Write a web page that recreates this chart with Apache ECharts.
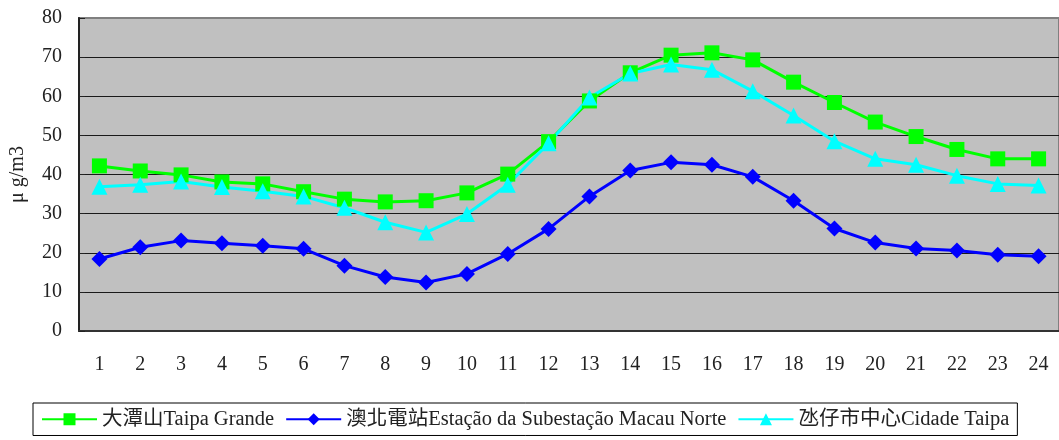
<!DOCTYPE html>
<html>
<head>
<meta charset="utf-8">
<script src="https://cdn.jsdelivr.net/npm/echarts@6/dist/echarts.min.js"></script>
<style>
  html, body { margin: 0; padding: 0; background: #fff; }
  #chart { width: 1059px; height: 440px; }
</style>
</head>
<body>
<div id="chart"></div>
<script>
// 小時 1-24
const hours = ["1","2","3","4","5","6","7","8","9","10","11","12","13","14","15","16","17","18","19","20","21","22","23","24"];

// 大潭山
const taipaGrande = [42.2, 40.9, 39.9, 38.1, 37.6, 35.6, 33.7, 33.0, 33.3, 35.3, 40.1, 48.4,
  58.8, 66.0, 70.5, 71.1, 69.3, 63.6, 58.4, 53.4, 49.7, 46.4, 44.0, 44.0];
// 澳北電站
const macauNorte = [18.4, 21.4, 23.1, 22.4, 21.8, 21.0, 16.7, 13.8, 12.4, 14.6, 19.7, 26.1,
  34.4, 41.0, 43.1, 42.5, 39.4, 33.3, 26.2, 22.6, 21.1, 20.6, 19.5, 19.1];
// 氹仔市中心
const cidadeTaipa = [36.9, 37.4, 38.2, 36.8, 35.7, 34.4, 31.5, 27.8, 25.2, 29.9, 37.4, 48.0,
  59.7, 65.8, 68.1, 66.8, 61.3, 55.1, 48.5, 44.0, 42.5, 39.7, 37.6, 37.2];

const names = ["大潭山Taipa Grande", "澳北電站Estação da Subestação Macau Norte", "氹仔市中心Cidade Taipa"];

const font = '"Liberation Serif", "Noto Sans CJK TC", serif';

var myChart = echarts.init(document.getElementById("chart"));

function lineSeries(name, data, color, symbol, size) {
  return {
    name: name,
    type: "line",
    data: data,
    symbol: symbol,
    symbolSize: size,
    lineStyle: { color: color, width: 3 },
    itemStyle: { color: color },
    animation: false,
  };
}

myChart.setOption({
  animation: false,
  textStyle: { fontFamily: font },
  grid: {
    left: 79,
    right: -3,
    top: 18,
    bottom: 109,
    show: true,
    backgroundColor: "#C0C0C0",
    borderColor: "#808080",
    borderWidth: 2,
  },
  xAxis: {
    type: "category",
    data: hours,
    boundaryGap: true,
    axisLine: { lineStyle: { color: "#333", width: 2 } },
    axisTick: { inside: true, length: 6, lineStyle: { color: "#333", width: 1.5 } },
    axisLabel: { color: "#222", fontSize: 20, margin: 24, fontFamily: font },
  },
  yAxis: {
    type: "value",
    min: 0,
    max: 80,
    interval: 10,
    name: "μ g/m3",
    nameLocation: "middle",
    nameGap: 51,
    nameRotate: 90,
    nameTextStyle: { color: "#222", fontSize: 20, fontFamily: font },
    axisLine: { show: true, lineStyle: { color: "#222", width: 2 } },
    axisTick: { show: true, inside: true, length: 6, lineStyle: { color: "#222" } },
    splitLine: { showMaxLine: false, lineStyle: { color: "#1a1a1a", width: 1 } },
    axisLabel: { color: "#222", fontSize: 20, margin: 17, fontFamily: font },
  },
  legend: {
    left: 33,
    top: 403,
    padding: [6, 8, 6, 8],
    itemGap: 11,
    itemWidth: 55,
    itemHeight: 15,
    borderColor: "#000",
    borderWidth: 1,
    textStyle: { color: "#222", fontSize: 20.5, fontFamily: font },
    data: names,
  },
  series: [
    lineSeries(names[0], taipaGrande, "#00FF00", "rect", 15),
    lineSeries(names[1], macauNorte, "#0000FF", "diamond", 16),
    lineSeries(names[2], cidadeTaipa, "#00FFFF", "triangle", 16),
  ],
});
</script>
</body>
</html>
